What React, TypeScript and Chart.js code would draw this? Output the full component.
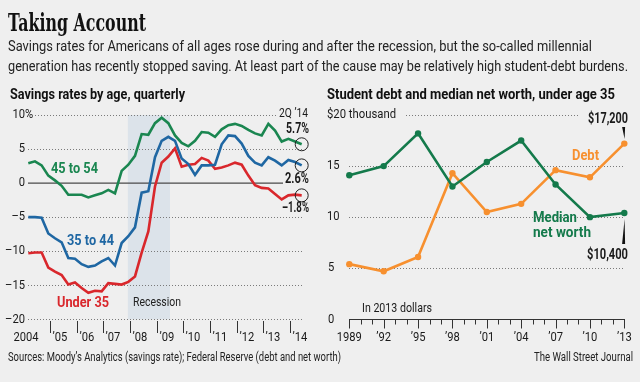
import React, { useEffect, useRef } from "react";
import { Chart, registerables } from "chart.js";
Chart.register(...registerables);

// ---------- DATA ----------
// Savings rates by age, quarterly, 2004 Q1 .. 2014 Q2 (42 quarters)
const quarterLabels: string[] = [];
for (let yr = 2004; yr <= 2014; yr++) for (let q = 1; q <= 4; q++) if (!(yr === 2014 && q > 2)) quarterLabels.push(`${q}Q ${yr}`);

const age45to54 = [2.9, 3.2, 2.6, 1.1, 0.4, -0.4, -1.7, -1.7, -1.7, -2.1, -1.8, -1.5, -1.0, -1.5, 1.8, 2.7, 4.0, 7.2, 7.1, 8.8, 9.6, 8.8, 7.0, 5.9, 5.4, 6.2, 7.5, 7.4, 6.8, 7.9, 8.5, 8.7, 8.4, 7.8, 7.3, 7.0, 8.7, 7.7, 6.1, 6.5, 6.1, 5.7];
const age35to44 = [-5.0, -5.0, -5.1, -7.4, -8.1, -8.7, -11.0, -11.1, -11.9, -12.3, -12.1, -11.5, -11.0, -12.1, -8.8, -7.8, -6.5, -1.4, -1.2, 3.8, 6.2, 6.8, 6.2, 3.6, 2.8, 1.2, 2.6, 2.6, 2.7, 5.7, 7.0, 6.9, 5.8, 4.0, 3.0, 2.6, 3.8, 3.3, 2.6, 3.4, 3.1, 2.6];
const under35 = [-10.3, -10.2, -10.2, -12.4, -13.0, -13.5, -14.9, -14.6, -15.4, -16.1, -15.8, -15.9, -14.7, -14.8, -14.9, -14.5, -13.7, -10.2, -7.1, -0.5, 3.0, 3.9, 5.1, 2.4, 2.7, 2.8, 3.7, 3.3, 2.1, 2.3, 2.6, 3.0, 2.7, 1.1, -0.3, -0.7, -0.8, -1.6, -2.4, -1.8, -1.7, -1.8];
const leftYTicks = [10, 5, 0, -5, -10, -15, -20];
const leftYearTicks = [2005, 2006, 2007, 2008, 2009, 2010, 2011, 2012, 2013, 2014];
const leftYearLabels = ["’05", "’06", "’07", "’08", "’09", "’10", "’11", "’12", "’13", "’14"];
const recessionYears = [2007.92, 2009.5];
const endLabels = ["5.7%", "2.6%", "–1.8%"];

// Student debt and median net worth, under age 35 (thousands, 2013 dollars)
const surveyYears = [1989, 1992, 1995, 1998, 2001, 2004, 2007, 2010, 2013];
const surveyLabels = ["1989", "’92", "’95", "’98", "’01", "’04", "’07", "’10", "’13"];
const studentDebt = [5.4, 4.7, 6.1, 14.3, 10.5, 11.3, 14.6, 13.9, 17.2];
const medianNetWorth = [14.1, 15.0, 18.2, 13.0, 15.4, 17.5, 13.2, 10.0, 10.4];
const rightYTicks = [20, 15, 10, 5, 0];

// ---------- STYLE ----------
const GREEN = "#1a8650";
const BLUE = "#1f67a3";
const RED = "#d9272c";
const ORANGE = "#f7902f";
const GREEN2 = "#147a4b";
const TXT = "#1a1a1a";
const SANS = "Roboto, 'Liberation Sans', sans-serif";

function fitText(ctx: CanvasRenderingContext2D, s: string, x: number, y: number, w: number, font: string, color: string, align = "left") {
  ctx.save();
  ctx.font = font;
  ctx.fillStyle = color;
  ctx.textBaseline = "middle";
  ctx.textAlign = "left";
  const nat = ctx.measureText(s).width;
  const k = w / nat;
  const x0 = align === "left" ? x : align === "right" ? x - w : x - w / 2;
  ctx.translate(x0, y);
  ctx.scale(k, 1);
  ctx.fillText(s, 0, 0);
  ctx.restore();
}

function sText(ctx: CanvasRenderingContext2D, s: string, x: number, y: number, font: string, color: string, align = "left", k = 0.86) {
  ctx.save();
  ctx.font = font;
  ctx.fillStyle = color;
  ctx.textBaseline = "middle";
  ctx.textAlign = align as CanvasTextAlign;
  ctx.translate(x, y);
  ctx.scale(k, 1);
  ctx.fillText(s, 0, 0);
  ctx.restore();
}

function dotted(ctx: CanvasRenderingContext2D, x1: number, x2: number, y: number) {
  ctx.save();
  ctx.strokeStyle = "#7a7a7a";
  ctx.lineWidth = 1;
  ctx.setLineDash([1, 2]);
  ctx.beginPath();
  ctx.moveTo(x1, Math.round(y) + 0.5);
  ctx.lineTo(x2, Math.round(y) + 0.5);
  ctx.stroke();
  ctx.restore();
}

const yearToIndex = (yr: number) => (yr - 2004) * 4 - 0.75;

const leftPlugin = {
  id: "leftDeco",
  beforeDatasetsDraw(chart: any) {
    const { ctx, scales } = chart;
    const x = scales.x, y = scales.y;
    // recession shading
    const r1 = x.getPixelForValue(yearToIndex(recessionYears[0]));
    const r2 = x.getPixelForValue(yearToIndex(recessionYears[1]));
    ctx.save();
    ctx.fillStyle = "#dce3ea";
    ctx.fillRect(r1, y.getPixelForValue(10), r2 - r1, y.getPixelForValue(-20) - y.getPixelForValue(10));
    ctx.restore();
    // gridlines
    for (const v of leftYTicks) {
      const py = y.getPixelForValue(v);
      if (v === 0) continue;
      if (v === 10) dotted(ctx, 35, 277, py);
      else dotted(ctx, 28, 303, py);
    }
    ctx.save();
    ctx.strokeStyle = "#4a4a4a";
    ctx.lineWidth = 1.2;
    const zy = y.getPixelForValue(0);
    ctx.beginPath();
    ctx.moveTo(28, zy);
    ctx.lineTo(283, zy);
    ctx.stroke();
    ctx.restore();
  },
  afterDatasetsDraw(chart: any) {
    const { ctx, scales } = chart;
    const x = scales.x, y = scales.y;
    // end circles
    chart.data.datasets.forEach((ds: any, i: number) => {
      const meta = chart.getDatasetMeta(i);
      const pt = meta.data[meta.data.length - 1];
      ctx.save();
      ctx.strokeStyle = "#222";
      ctx.lineWidth = 1;
      ctx.beginPath();
      ctx.arc(pt.x, pt.y, 6.5, 0, Math.PI * 2);
      ctx.stroke();
      ctx.restore();
    });
    // y tick labels
    const f = `13px ${SANS}`;
    for (const v of leftYTicks) {
      const py = y.getPixelForValue(v);
      const s = v < 0 ? "–" + Math.abs(v) : String(v);
      sText(ctx, s, 25, py, f, TXT, "right");
      if (v === 10) sText(ctx, "%", 25, py, f, TXT, "left");
    }
    // x ticks
    ctx.save();
    ctx.strokeStyle = "#333";
    ctx.lineWidth = 1;
    leftYearTicks.forEach((yr, i) => {
      const px = Math.round(x.getPixelForValue(yearToIndex(yr))) + 0.5;
      ctx.beginPath();
      ctx.moveTo(px, 321);
      ctx.lineTo(px, 333);
      ctx.stroke();
      sText(ctx, leftYearLabels[i], px + 2, 338, f, TXT, "left");
    });
    ctx.restore();
    sText(ctx, "2004", 26, 338, f, TXT, "center");
    // series labels
    fitText(ctx, "45 to 54", 51, 169, 47, `bold 15.5px ${SANS}`, GREEN);
    fitText(ctx, "35 to 44", 67, 241, 47, `bold 15.5px ${SANS}`, BLUE);
    fitText(ctx, "Under 35", 57, 303, 52, `bold 15.5px ${SANS}`, RED);
    fitText(ctx, "Recession", 133, 303, 48, `13.5px ${SANS}`, "#222");
    // end labels
    fitText(ctx, "2Q ’14", 308, 114, 29, `13.5px ${SANS}`, TXT, "right");
    fitText(ctx, endLabels[0], 309, 129, 23, `bold 14px ${SANS}`, TXT, "right");
    fitText(ctx, endLabels[1], 309, 179, 24, `bold 14px ${SANS}`, TXT, "right");
    fitText(ctx, endLabels[2], 309, 208, 27, `bold 14px ${SANS}`, TXT, "right");
  },
  afterDraw(chart: any) {
    const { ctx } = chart;
    // page texts
    fitText(ctx, "Taking Account", 8, 24, 138, `bold 25px 'DejaVu Serif', serif`, "#111");
    fitText(ctx, "Savings rates for Americans of all ages rose during and after the recession, but the so-called millennial", 8, 47, 584, `14.5px ${SANS}`, "#222");
    fitText(ctx, "generation has recently stopped saving. At least part of the cause may be relatively high student-debt burdens.", 8, 67, 620, `14.5px ${SANS}`, "#222");
    fitText(ctx, "Savings rates by age, quarterly", 10, 95, 175, `bold 14.5px ${SANS}`, "#111");
    fitText(ctx, "Student debt and median net worth, under age 35", 327, 95, 288, `bold 14.5px ${SANS}`, "#111");
    fitText(ctx, "Sources: Moody’s Analytics (savings rate); Federal Reserve (debt and net worth)", 8, 358, 333, `12px ${SANS}`, "#222");
    fitText(ctx, "The Wall Street Journal", 633, 358, 99, `12px ${SANS}`, "#222", "right");
  },
};

const rightPlugin = {
  id: "rightDeco",
  beforeDatasetsDraw(chart: any) {
    const { ctx, scales } = chart;
    const y = scales.y;
    for (const v of rightYTicks) {
      if (v === 0) continue;
      const py = y.getPixelForValue(v);
      if (v === 20) dotted(ctx, 406, 579, py);
      else dotted(ctx, 349, 625, py);
    }
  },
  afterDatasetsDraw(chart: any) {
    const { ctx, scales } = chart;
    const x = scales.x, y = scales.y;
    const f = `13px ${SANS}`;
    // axis
    const zy = Math.round(y.getPixelForValue(0)) + 0.5;
    ctx.save();
    ctx.strokeStyle = "#333";
    ctx.lineWidth = 1.2;
    ctx.beginPath();
    ctx.moveTo(349, zy);
    ctx.lineTo(625, zy);
    ctx.stroke();
    ctx.lineWidth = 1;
    for (let yr = surveyYears[0]; yr <= surveyYears[surveyYears.length - 1]; yr++) {
      const px = Math.round(x.getPixelForValue(yr)) + 0.5;
      const major = (yr - surveyYears[0]) % 3 === 0;
      ctx.beginPath();
      ctx.moveTo(px, zy);
      ctx.lineTo(px, zy + (major ? 9 : 5));
      ctx.stroke();
    }
    ctx.restore();
    surveyYears.forEach((yr, i) => {
      sText(ctx, surveyLabels[i], x.getPixelForValue(yr), 338, f, TXT, "center");
    });
    // y labels
    for (const v of rightYTicks) {
      const py = y.getPixelForValue(v);
      if (v === 20) fitText(ctx, "$20 thousand", 327, py, 69, f, TXT);
      else sText(ctx, String(v), v >= 10 ? 327 : 328, py, f, TXT, "left");
    }
    fitText(ctx, "In 2013 dollars", 362, 309, 70, f, TXT);
    fitText(ctx, "Debt", 572, 156, 27, `bold 15.5px ${SANS}`, ORANGE);
    fitText(ctx, "Median", 533, 218, 44, `bold 15.5px ${SANS}`, GREEN2);
    fitText(ctx, "net worth", 533, 233, 58, `bold 15.5px ${SANS}`, GREEN2);
    fitText(ctx, "$17,200", 628, 119, 40, `bold 14px ${SANS}`, TXT, "right");
    fitText(ctx, "$10,400", 628, 255, 41, `bold 14px ${SANS}`, TXT, "right");
    // wedges
    ctx.save();
    ctx.fillStyle = "#111";
    const dx = x.getPixelForValue(surveyYears[surveyYears.length - 1]);
    ctx.beginPath();
    ctx.moveTo(dx - 2.2, 127);
    ctx.lineTo(dx + 0.8, 127);
    ctx.lineTo(dx + 0.3, 139);
    ctx.closePath();
    ctx.fill();
    ctx.beginPath();
    ctx.moveTo(dx - 2.2, 244);
    ctx.lineTo(dx + 0.8, 244);
    ctx.lineTo(dx + 0.3, 219);
    ctx.closePath();
    ctx.fill();
    ctx.restore();
  },
};

export default function App() {
  const leftRef = useRef<HTMLCanvasElement>(null);
  const rightRef = useRef<HTMLCanvasElement>(null);

  useEffect(() => {
    const common = {
      responsive: false,
      animation: false as const,
      events: [] as any[],
      plugins: { legend: { display: false }, tooltip: { enabled: false } },
    };
    const left = new Chart(leftRef.current!, {
      type: "line",
      data: {
        labels: quarterLabels,
        datasets: [
          { label: "45 to 54", data: age45to54.map((v, i) => ({ x: i, y: v })), borderColor: GREEN, borderWidth: 2.6, pointRadius: 0, tension: 0, clip: false as any },
          { label: "35 to 44", data: age35to44.map((v, i) => ({ x: i, y: v })), borderColor: BLUE, borderWidth: 2.6, pointRadius: 0, tension: 0, clip: false as any },
          { label: "Under 35", data: under35.map((v, i) => ({ x: i, y: v })), borderColor: RED, borderWidth: 2.6, pointRadius: 0, tension: 0, clip: false as any },
        ],
      },
      options: {
        ...common,
        layout: { padding: { left: 28.3, right: 640 - 301.7, top: 115, bottom: 382 - 319.3 } },
        scales: {
          x: { type: "linear", min: 0, max: quarterLabels.length - 1, display: false },
          y: { type: "linear", min: -20, max: 10, display: false },
        },
      },
      plugins: [leftPlugin],
    } as any);
    const right = new Chart(rightRef.current!, {
      type: "line",
      data: {
        datasets: [
          { label: "Median net worth", data: surveyYears.map((yr, i) => ({ x: yr, y: medianNetWorth[i] })), borderColor: GREEN2, backgroundColor: GREEN2, borderWidth: 2.6, pointRadius: 3.2, pointBorderWidth: 0, tension: 0, clip: false as any },
          { label: "Debt", data: surveyYears.map((yr, i) => ({ x: yr, y: studentDebt[i] })), borderColor: ORANGE, backgroundColor: ORANGE, borderWidth: 2.6, pointRadius: 3.2, pointBorderWidth: 0, tension: 0, clip: false as any },
        ],
      },
      options: {
        ...common,
        layout: { padding: { left: 349.3, right: 640 - 624.3, top: 115, bottom: 382 - 319.3 } },
        scales: {
          x: { type: "linear", min: surveyYears[0], max: surveyYears[surveyYears.length - 1], display: false },
          y: { type: "linear", min: 0, max: 20, display: false },
        },
      },
      plugins: [rightPlugin],
    } as any);
    return () => {
      left.destroy();
      right.destroy();
    };
  }, []);

  return (
    <div style={{ position: "fixed", left: 0, top: 0, width: 640, height: 382, background: "#efefef", overflow: "hidden" }}>
      <canvas ref={leftRef} width={640} height={382} style={{ position: "absolute", left: 0, top: 0 }} />
      <canvas ref={rightRef} width={640} height={382} style={{ position: "absolute", left: 0, top: 0 }} />
    </div>
  );
}
